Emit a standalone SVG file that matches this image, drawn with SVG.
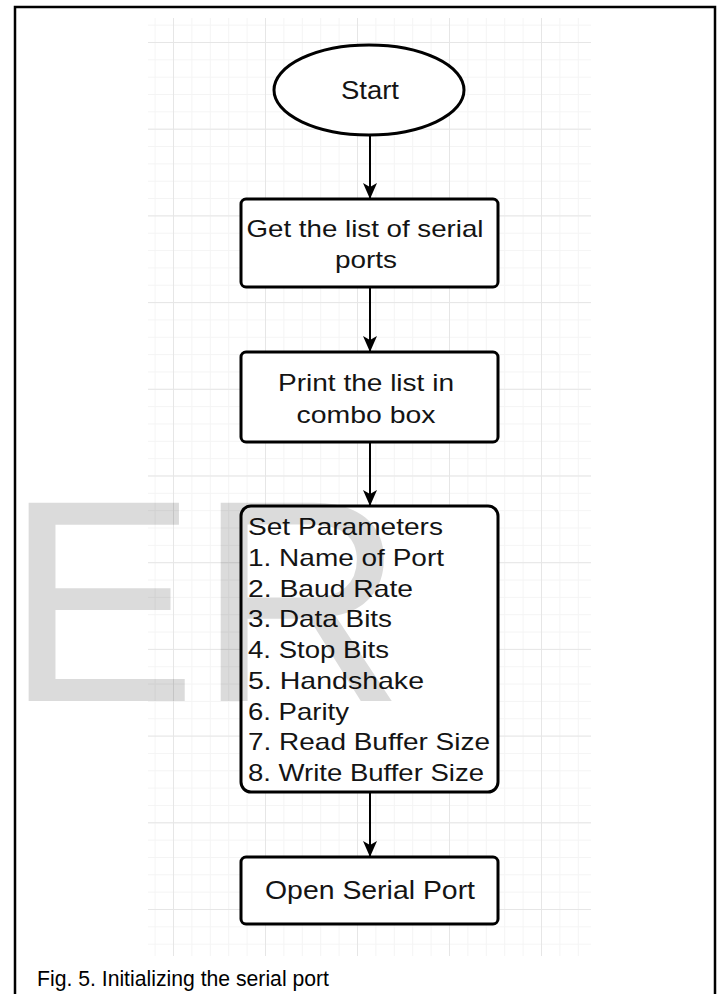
<svg xmlns="http://www.w3.org/2000/svg" width="718" height="994" viewBox="0 0 718 994">
  <style>
    .node { fill: #ffffff; stroke: #000000; stroke-width: 3; }
    .label { font-family: "Liberation Sans", Arial, sans-serif; font-size: 24px; fill: #141414; }
    .mid { text-anchor: middle; }
    .edge { fill: none; stroke: #000000; stroke-width: 2; marker-end: url(#arrow); }
    .caption { font-family: "Liberation Sans", Arial, sans-serif; font-size: 22px; fill: #000000; }
    .mark { font-family: "Liberation Sans", Arial, sans-serif; font-size: 288px; fill: #000000; fill-opacity: 0.14; }
  </style>
  <defs>
    <!-- faint editor grid: minor cells and major cells -->
    <pattern id="gridMinor" patternUnits="userSpaceOnUse" x="173" y="42" width="18.4" height="17.34">
      <path d="M0,0.5 H18.4 M0.5,0 V17.34" fill="none" stroke="#f4f4f4" stroke-width="1"/>
    </pattern>
    <pattern id="gridMajor" patternUnits="userSpaceOnUse" x="173" y="42" width="92" height="86.7">
      <path d="M0,0.5 H92 M0.5,0 V86.7" fill="none" stroke="#e6e6e6" stroke-width="1"/>
    </pattern>
    <marker id="arrow" markerUnits="userSpaceOnUse" viewBox="0 0 16 14" markerWidth="16" markerHeight="14" refX="16" refY="7" orient="auto">
      <path d="M0,0 L16,7 L0,14 L4,7 Z" fill="#000000"/>
    </marker>
  </defs>

  <!-- page background and frame -->
  <rect x="0" y="0" width="718" height="994" fill="#ffffff"/>
  <path d="M15,994 V7 H715 V994" fill="none" stroke="#000000" stroke-width="2.5"/>

  <!-- drawing canvas grid -->
  <rect x="148" y="18" width="443" height="938" fill="url(#gridMinor)"/>
  <rect x="148" y="18" width="443" height="938" fill="url(#gridMajor)"/>

  <!-- connectors -->
  <g id="connectors">
    <line class="edge" x1="370" y1="135" x2="370" y2="199"/>
    <line class="edge" x1="370" y1="287" x2="370" y2="352"/>
    <line class="edge" x1="370" y1="442" x2="370" y2="506"/>
    <line class="edge" x1="370" y1="792" x2="370" y2="857"/>
  </g>

  <!-- nodes -->
  <g id="start">
    <ellipse class="node" cx="369" cy="90" rx="95" ry="45"/>
    <text class="label mid" x="370" y="99" style="font-size:26px" textLength="58" lengthAdjust="spacingAndGlyphs">Start</text>
  </g>

  <g id="get-ports">
    <rect class="node" x="241" y="199" width="257" height="88" rx="5"/>
    <text class="label mid" x="365" y="237" textLength="237" lengthAdjust="spacingAndGlyphs">Get the list of serial</text>
    <text class="label mid" x="366" y="268" textLength="62" lengthAdjust="spacingAndGlyphs">ports</text>
  </g>

  <g id="print-list">
    <rect class="node" x="241" y="352" width="257" height="90" rx="5"/>
    <text class="label mid" x="366" y="391" textLength="176" lengthAdjust="spacingAndGlyphs">Print the list in</text>
    <text class="label mid" x="366" y="423" textLength="139" lengthAdjust="spacingAndGlyphs">combo box</text>
  </g>

  <g id="set-parameters">
    <rect class="node" x="241" y="506" width="257" height="286" rx="10"/>
    <text class="label" x="248" y="535" textLength="195" lengthAdjust="spacingAndGlyphs">Set Parameters</text>
    <text class="label" x="248" y="565.75" textLength="196" lengthAdjust="spacingAndGlyphs">1. Name of Port</text>
    <text class="label" x="248" y="596.5" textLength="165" lengthAdjust="spacingAndGlyphs">2. Baud Rate</text>
    <text class="label" x="248" y="627.25" textLength="144" lengthAdjust="spacingAndGlyphs">3. Data Bits</text>
    <text class="label" x="248" y="658" textLength="141" lengthAdjust="spacingAndGlyphs">4. Stop Bits</text>
    <text class="label" x="248" y="688.75" textLength="176" lengthAdjust="spacingAndGlyphs">5. Handshake</text>
    <text class="label" x="248" y="719.5" textLength="101" lengthAdjust="spacingAndGlyphs">6. Parity</text>
    <text class="label" x="248" y="750.25" textLength="242" lengthAdjust="spacingAndGlyphs">7. Read Buffer Size</text>
    <text class="label" x="248" y="781" textLength="236" lengthAdjust="spacingAndGlyphs">8. Write Buffer Size</text>
  </g>

  <g id="open-port">
    <rect class="node" x="241" y="857" width="257" height="67" rx="5"/>
    <text class="label mid" x="370" y="899" style="font-size:25px" textLength="210" lengthAdjust="spacingAndGlyphs">Open Serial Port</text>
  </g>

  <!-- translucent watermark letters -->
  <text class="mark" x="5" y="701">ER</text>

  <!-- figure caption -->
  <text class="caption" x="37" y="986" textLength="292" lengthAdjust="spacingAndGlyphs">Fig. 5. Initializing the serial port</text>
</svg>
